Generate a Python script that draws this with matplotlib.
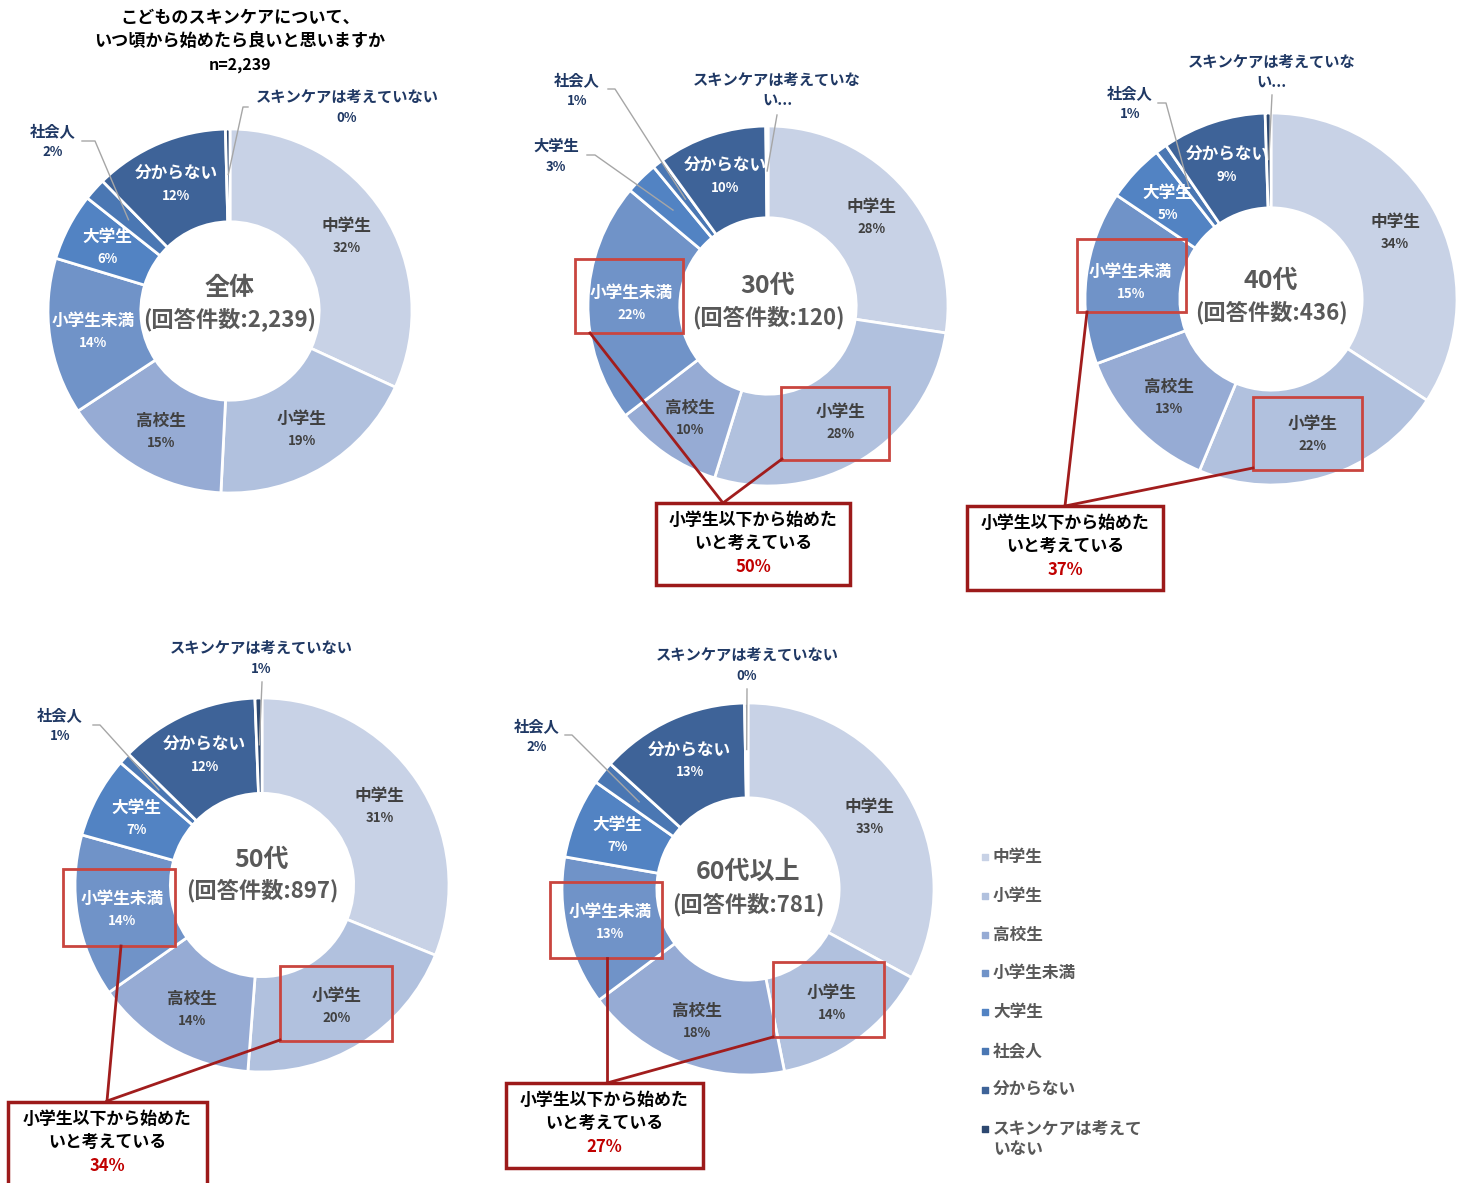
import numpy as np
import matplotlib.pyplot as plt
from matplotlib.patches import Rectangle

plt.rcParams['font.family'] = ['Noto Sans CJK JP', 'DejaVu Sans']

W, H = 1467, 1183

# data
categories = ['中学生', '小学生', '高校生', '小学生未満', '大学生', '社会人', '分からない',
              'スキンケアは考えていない']
colors = ['#c8d2e6', '#b1c1de', '#96abd4', '#7093c8', '#5283c3', '#4a77b3', '#3e6398', '#2d4870']

total = [32, 19, 15, 14, 6, 2, 12, 0.4]
age30 = [28, 28, 10, 22, 3, 1, 10, 0.2]
age40 = [34, 22, 13, 15, 5, 1, 9, 0.5]
age50 = [31, 20, 14, 14, 7, 1, 12, 0.6]
age60 = [33, 14, 18, 13, 7, 2, 13, 0.3]

group_names = ['全体', '30代', '40代', '50代', '60代以上']
n_answers = ['2,239', '120', '436', '897', '781']

# layout (pixel coords, y measured from top)
panels = [
    dict(vals=total, c=(230, 311), r=182, ty=(288, 320),
         out={5: dict(xy=(53, 131), lead=[(82, 141), (95, 141)]),
              7: dict(xy=(347, 97), lead=[(248, 107), (243, 107)])},
         boxes=[], callout=None),
    dict(vals=age30, c=(768, 306), r=180, ty=(286, 318),
         out={4: dict(xy=(556, 146), lead=[(587, 155), (595, 155)]),
              5: dict(xy=(577, 80), lead=[(608, 89), (615, 89)]),
              7: dict(xy=(777, 80), lead=[(777, 115)], text=['スキンケアは考えていな', 'い...'])},
         boxes=[(575, 259, 683, 333), (781, 387, 889, 460)],
         callout=dict(box=(656, 503, 850, 585), apex=(723, 503), src=[(590, 333), (782, 459)])),
    dict(vals=age40, c=(1271, 299), r=186, ty=(281, 313),
         out={5: dict(xy=(1130, 93), lead=[(1158, 103), (1166, 103)]),
              7: dict(xy=(1272, 62), lead=[(1272, 95)], text=['スキンケアは考えていな', 'い...'])},
         boxes=[(1077, 239, 1186, 312), (1253, 397, 1362, 470)],
         callout=dict(box=(967, 506, 1163, 590), apex=(1065, 506), src=[(1087, 312), (1253, 468)])),
    dict(vals=age50, c=(262, 885), r=187, ty=(860, 891),
         out={5: dict(xy=(60, 715), lead=[(93, 725), (100, 725)]),
              7: dict(xy=(261, 648), lead=[(262, 682)])},
         boxes=[(63, 869, 175, 946), (280, 966, 392, 1041)],
         callout=dict(box=(8, 1102, 207, 1195), apex=(107, 1101), src=[(121, 946), (280, 1040)])),
    dict(vals=age60, c=(748, 889), r=186, ty=(872, 905),
         out={5: dict(xy=(537, 726), lead=[(565, 735), (572, 735)]),
              7: dict(xy=(747, 655), lead=[(747, 689)])},
         boxes=[(550, 882, 662, 958), (773, 962, 884, 1037)],
         callout=dict(box=(506, 1083, 703, 1168), apex=(607, 1083), src=[(607, 958), (773, 1037)])),
]

fig = plt.figure(figsize=(W / 100, H / 100), dpi=100)
ax = fig.add_axes([0, 0, 1, 1])


def Y(y):
    return H - y


dark_txt = '#404040'
blue_txt = '#1f3864'
white_idx = [3, 4, 6]

for k, p in enumerate(panels):
    cx, cy = p['c']
    r = p['r']
    vals = p['vals']
    wedges, _ = ax.pie(vals, colors=colors, startangle=90, counterclock=False,
                       radius=r, center=(cx, Y(cy)),
                       wedgeprops=dict(width=r * 0.51, edgecolor='white', linewidth=2))
    for i, w in enumerate(wedges):
        mid = np.deg2rad((w.theta1 + w.theta2) / 2)
        pct = '%d%%' % round(vals[i])
        if i in p['out']:
            o = p['out'][i]
            lx, ly = o['xy']
            end = (cx + r * 0.75 * np.cos(mid), Y(cy) + r * 0.75 * np.sin(mid))
            pts = [(x, Y(y)) for x, y in o['lead']] + [end]
            ax.plot([q[0] for q in pts], [q[1] for q in pts], color='#a6a6a6', lw=1)
            lines = o.get('text') or [categories[i], pct]
            ax.text(lx, Y(ly), lines[0], ha='center', va='center', fontsize=11,
                    fontweight='bold', color=blue_txt)
            ax.text(lx, Y(ly + 21), lines[1], ha='center', va='center',
                    fontsize=9.5 if not o.get('text') else 11, fontweight='bold', color=blue_txt)
        else:
            x = cx + r * 0.76 * np.cos(mid)
            y = Y(cy) + r * 0.76 * np.sin(mid)
            col = 'white' if i in white_idx else dark_txt
            ax.text(x, y + 10, categories[i], ha='center', va='center', fontsize=12,
                    fontweight='bold', color=col)
            ax.text(x, y - 12, pct, ha='center', va='center', fontsize=9.5,
                    fontweight='bold', color=col)

    # center text
    ax.text(cx, Y(p['ty'][0]), group_names[k], ha='center', va='center', fontsize=18,
            fontweight='bold', color='#595959')
    ax.text(cx, Y(p['ty'][1]), '(回答件数:%s)' % n_answers[k], ha='center', va='center',
            fontsize=16, fontweight='bold', color='#595959')

    for (x0, y0, x1, y1) in p['boxes']:
        ax.add_patch(Rectangle((x0, Y(y1)), x1 - x0, y1 - y0, fill=False,
                               edgecolor='#c9453f', lw=2, zorder=5))
    cl = p['callout']
    if cl:
        ax_, ay_ = cl['apex']
        for sx, sy in cl['src']:
            ax.plot([sx, ax_], [Y(sy), Y(ay_)], color='#a11d1d', lw=2, zorder=6)
        x0, y0, x1, y1 = cl['box']
        ax.add_patch(Rectangle((x0, Y(y1)), x1 - x0, y1 - y0, facecolor='white',
                               edgecolor='#9c1a1a', lw=2.5, zorder=7))
        mx = (x0 + x1) / 2
        ax.text(mx, Y(y0 + 17), '小学生以下から始めた', ha='center', va='center', fontsize=12.2,
                fontweight='bold', color='black', zorder=8)
        ax.text(mx, Y(y0 + 40), 'いと考えている', ha='center', va='center', fontsize=12.2,
                fontweight='bold', color='black', zorder=8)
        both = round(p['vals'][1] + p['vals'][3])
        ax.text(mx, Y(y0 + 64), '%d%%' % both, ha='center', va='center', fontsize=12,
                fontweight='bold', color='#c00000', zorder=8)

# title of the first chart
ax.text(240, Y(18), 'こどものスキンケアについて、', ha='center', va='center', fontsize=12.3,
        fontweight='bold', color='black')
ax.text(240, Y(41), 'いつ頃から始めたら良いと思いますか', ha='center', va='center',
        fontsize=12.3, fontweight='bold', color='black')
ax.text(240, Y(65), 'n=2,239', ha='center', va='center', fontsize=11.5,
        fontweight='bold', color='black')

# legend
leg_labels = categories[:-1] + ['スキンケアは考えて\nいない']
for i, lab in enumerate(leg_labels):
    y = 857 + i * 38.8
    ax.scatter([985], [Y(y)], marker='s', s=22, color=colors[i], zorder=5)
    ax.text(993, Y(y - 9), lab, ha='left', va='top', fontsize=12, fontweight='bold',
            color='#595959', linespacing=1.2)

ax.set_xlim(0, W)
ax.set_ylim(0, H)
ax.set_aspect('auto')
ax.axis('off')

fig.savefig('out.png', dpi=100, facecolor='white')
